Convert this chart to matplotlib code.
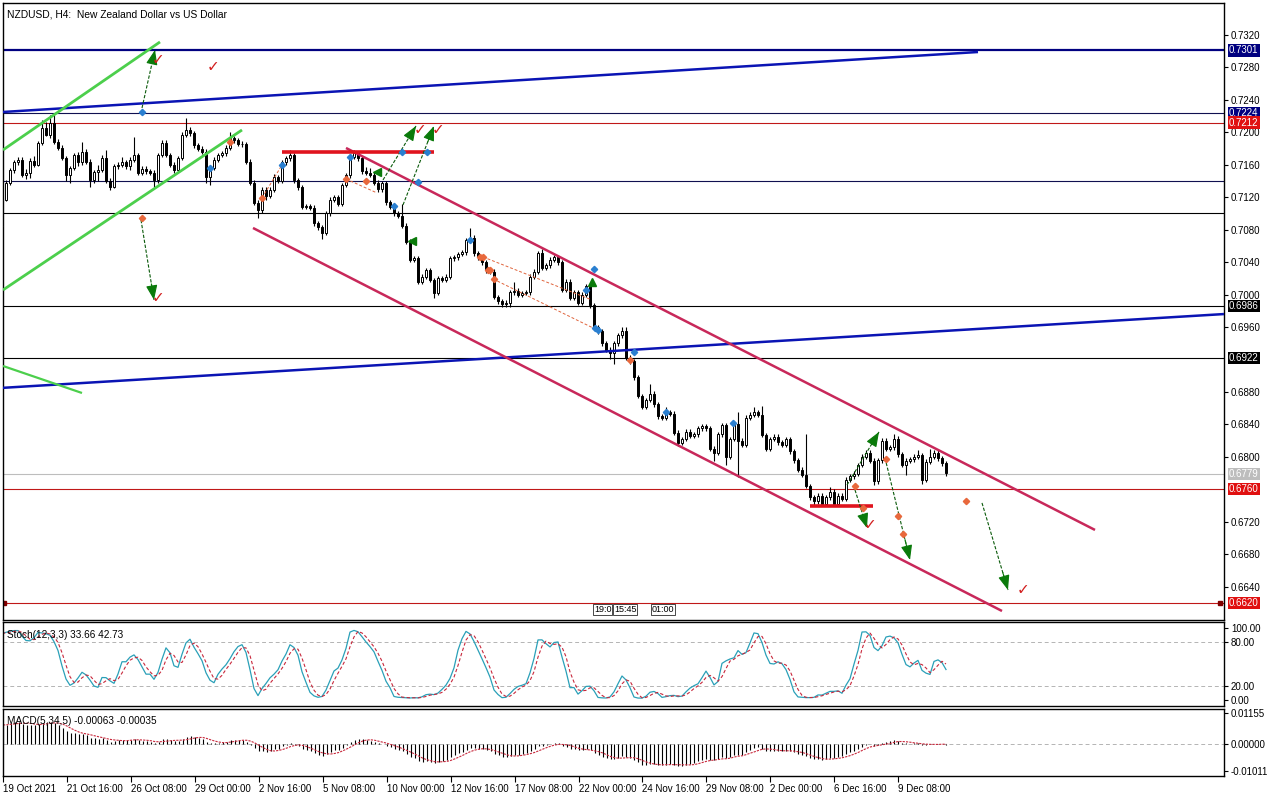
import numpy as np
import pandas as pd
import matplotlib
matplotlib.use("Agg")
import matplotlib.pyplot as plt

# ---------------- data (prices in pips, 0.0001) ----------------
open0 = 7085
closes = [
    7117, 7138, 7154, 7163, 7166, 7147, 7150, 7165, 7160, 7187,
    7205, 7197, 7211, 7188, 7181, 7168, 7147, 7156, 7172, 7163,
    7176, 7163, 7141, 7151, 7154, 7168, 7140, 7133, 7158, 7160,
    7163, 7158, 7166, 7172, 7150, 7155, 7152, 7150, 7141, 7172,
    7187, 7172, 7160, 7154, 7168, 7197, 7203, 7199, 7184, 7180,
    7176, 7145, 7156, 7166, 7172, 7174, 7181, 7193, 7190, 7186,
    7185, 7164, 7138, 7113, 7104, 7129, 7122, 7129, 7145, 7140,
    7163, 7168, 7172, 7141, 7132, 7108, 7109, 7107, 7088, 7083,
    7076, 7100, 7117, 7120, 7112, 7135, 7147, 7170, 7174, 7168,
    7152, 7150, 7148, 7138, 7130, 7137, 7114, 7108, 7100, 7097,
    7085, 7065, 7043, 7045, 7016, 7022, 7030, 7018, 7002, 7020,
    7018, 7022, 7045, 7046, 7050, 7052, 7067, 7070, 7051, 7046,
    7040, 7030, 7028, 6997, 6992, 6988, 6990, 7003, 7005, 7000,
    7002, 7003, 7022, 7028, 7051, 7033, 7036, 7043, 7046, 7040,
    7006, 7016, 6996, 7003, 6990, 7000, 7010, 6987, 6960, 6955,
    6940, 6932, 6928, 6940, 6950, 6955, 6922, 6918, 6898, 6875,
    6862, 6870, 6878, 6865, 6850, 6848, 6855, 6853, 6830, 6817,
    6822, 6831, 6826, 6828, 6835, 6838, 6835, 6810, 6805, 6828,
    6839, 6800, 6822, 6840, 6820, 6815, 6848, 6852, 6855, 6852,
    6827, 6810, 6822, 6825, 6818, 6815, 6822, 6807, 6796, 6784,
    6778, 6764, 6750, 6745, 6752, 6742, 6750, 6757, 6742, 6752,
    6748, 6772, 6776, 6779, 6790, 6800, 6805, 6795, 6770, 6796,
    6820, 6810, 6812, 6822, 6803, 6790, 6795, 6797, 6800, 6802,
    6772, 6794, 6800, 6805, 6798, 6792, 6780,
]
up_wick = [
    3, 3, 2, 3, 4, 3, 5, 3, 6, 2,
    10, 8, 10, 11, 4, 3, 3, 2, 3, 4,
    12, 3, 4, 3, 6, 4, 10, 4, 3, 3,
    7, 3, 3, 22, 3, 3, 4, 3, 3, 3,
    3, 3, 3, 4, 3, 3, 15, 3, 3, 3,
    3, 4, 3, 3, 3, 3, 3, 7, 3, 3,
    3, 3, 3, 3, 3, 3, 3, 3, 4, 3,
    3, 3, 6, 3, 3, 3, 3, 3, 3, 3,
    3, 3, 3, 3, 3, 3, 3, 3, 4, 3,
    3, 5, 6, 3, 3, 3, 3, 3, 3, 3,
    15, 3, 3, 3, 3, 3, 3, 3, 3, 3,
    3, 3, 3, 3, 3, 3, 3, 12, 3, 3,
    3, 3, 3, 3, 3, 3, 3, 3, 10, 3,
    3, 3, 3, 3, 3, 5, 3, 3, 3, 3,
    3, 3, 3, 3, 3, 3, 3, 3, 3, 3,
    3, 3, 3, 3, 3, 5, 5, 3, 3, 3,
    3, 3, 12, 3, 3, 3, 7, 3, 3, 3,
    3, 3, 3, 3, 3, 3, 3, 3, 3, 3,
    3, 3, 3, 3, 15, 3, 3, 3, 7, 3,
    11, 3, 3, 3, 3, 3, 3, 3, 3, 3,
    3, 50, 3, 3, 3, 3, 3, 6, 3, 3,
    3, 3, 3, 3, 3, 3, 4, 3, 3, 3,
    3, 3, 3, 6, 4, 3, 3, 3, 3, 6,
    3, 3, 10, 3, 3, 3, 3,
]
down_wick = [
    5, 2, 3, 4, 3, 2, 4, 6, 3, 2,
    3, 2, 4, 2, 3, 2, 7, 9, 3, 4,
    3, 2, 8, 4, 11, 3, 3, 4, 2, 3,
    3, 3, 4, 2, 3, 3, 3, 3, 8, 4,
    3, 3, 3, 4, 3, 2, 3, 3, 3, 3,
    3, 7, 10, 3, 3, 3, 3, 3, 3, 3,
    3, 3, 3, 3, 10, 3, 5, 3, 3, 3,
    3, 3, 3, 3, 3, 3, 3, 3, 3, 4,
    8, 3, 3, 3, 3, 3, 3, 3, 3, 3,
    3, 3, 3, 3, 3, 3, 3, 3, 3, 3,
    3, 3, 3, 3, 3, 3, 3, 3, 6, 3,
    3, 3, 3, 3, 3, 3, 3, 3, 3, 3,
    3, 3, 3, 3, 3, 3, 3, 5, 3, 3,
    3, 3, 3, 3, 3, 3, 3, 3, 3, 3,
    3, 3, 3, 3, 3, 3, 3, 3, 3, 3,
    3, 3, 8, 13, 3, 3, 3, 3, 3, 3,
    3, 3, 3, 3, 3, 3, 3, 3, 3, 4,
    3, 3, 3, 3, 3, 3, 3, 3, 10, 3,
    3, 10, 3, 3, 45, 3, 3, 3, 3, 3,
    3, 3, 3, 3, 3, 3, 3, 3, 3, 3,
    3, 3, 3, 4, 3, 3, 3, 3, 3, 3,
    3, 3, 3, 3, 3, 3, 3, 3, 5, 3,
    3, 3, 3, 3, 3, 3, 12, 3, 3, 3,
    5, 3, 3, 3, 3, 3, 4,
]
# MACD value at the left edge of the window
macd_start = 0.0075

date_labels = ["19 Oct 2021", "21 Oct 16:00", "26 Oct 08:00", "29 Oct 00:00",
               "2 Nov 16:00", "5 Nov 08:00", "10 Nov 00:00", "12 Nov 16:00",
               "17 Nov 08:00", "22 Nov 00:00", "24 Nov 16:00", "29 Nov 08:00",
               "2 Dec 00:00", "6 Dec 16:00", "9 Dec 08:00"]
bars_per_label = 16

# right-axis price labels (0.6920 and 0.6760 are hidden behind level boxes)
price_ticks = [0.7320, 0.7280, 0.7240, 0.7200, 0.7160, 0.7120, 0.7080, 0.7040,
               0.7000, 0.6960, 0.6880, 0.6840, 0.6800, 0.6720, 0.6680, 0.6640]

# horizontal levels: (price, colour, width, label box colour or None)
levels = [
    (0.7301, "#000080", 1.6, "#000080"),
    (0.7224, "#101050", 0.8, "#000080"),
    (0.7212, "#c01818", 0.8, "#e01010"),
    (0.7140, "#101050", 0.8, None),
    (0.7100, "#000000", 0.8, None),
    (0.6986, "#000000", 0.8, "#000000"),
    (0.6922, "#000000", 0.8, "#000000"),
    (0.6779, "#bdbdbd", 0.8, "#bdbdbd"),
    (0.6760, "#c01818", 0.8, "#e01010"),
    (0.6620, "#c01818", 0.8, "#e01010"),
]

# trend lines: ((bar, price), (bar, price)), colour, width
trend_lines = [
    ((0.0, 0.7225), (244.0, 0.7299), "#0a14b4", 1.8),
    ((0.0, 0.6885), (305.5, 0.6976), "#0a14b4", 1.8),
    ((0.25, 0.71783), (39.5, 0.73114), "#4ccf4c", 2.0),
    ((0.25, 0.70057), (60.0, 0.72029), "#4ccf4c", 2.0),
    ((0.25, 0.69120), (20.0, 0.68787), "#4ccf4c", 1.6),
    ((86.0, 0.71807), (273.25, 0.67099), "#c8285a", 1.8),
    ((62.75, 0.70821), (250.0, 0.66100), "#c8285a", 1.8),
]
thick_segments = [((70.0, 108.0), 0.71758), ((202.0, 217.75), 0.67394)]
dashed_lines = [
    ((65.0, 0.71191), (70.0, 0.71598)),
    ((86.0, 0.71425), (93.75, 0.71253)),
    ((120.25, 0.70464), (147.0, 0.69943)),
    ((122.75, 0.70193), (147.75, 0.69589)),
]
arrows = [
    ((35.0, 0.72300), (38.25, 0.73015)),
    ((34.75, 0.70920), (38.0, 0.69934)),
    ((95.25, 0.71413), (103.5, 0.72078)),
    ((100.25, 0.71105), (108.0, 0.72078)),
    ((211.25, 0.67653), (219.25, 0.68307)),
    ((213.25, 0.67592), (216.25, 0.67123)),
    ((220.75, 0.67986), (227.0, 0.66729)),
    ((245.0, 0.67432), (251.5, 0.66359)),
]
checks = [(39.0, 0.72892), (52.75, 0.72806), (104.5, 0.72029), (109.0, 0.72029),
          (39.0, 0.69958), (217.0, 0.67160), (255.25, 0.66359)]
small_triangles = [(93.75, 0.71511, "<"), (102.5, 0.70661, "<"), (147.5, 0.70155, "^")]
blue_marks_x = [35, 52, 70, 87, 100, 106.25, 104, 98, 117, 148, 146, 148.25, 149, 158, 166, 182.75]
blue_marks_y = [0.72251, 0.71561, 0.71598, 0.71696, 0.71758, 0.71758, 0.71388, 0.71092,
                0.70673, 0.70316, 0.70057, 0.69588, 0.69564, 0.69293, 0.68553, 0.68418]
orange_marks_x = [35, 57, 65, 86, 91, 119.5, 121.5, 120.25, 122, 123, 157,
                  213.25, 221, 215.25, 224, 225.25, 241]
orange_marks_y = [0.70944, 0.71881, 0.71191, 0.71425, 0.71400, 0.70464, 0.70303,
                  0.70464, 0.70303, 0.70192, 0.69194, 0.67641, 0.67974, 0.67370,
                  0.67271, 0.67049, 0.67456]

# ---------------- derived series ----------------
c = np.array(closes, float) / 1e4
o = np.r_[open0 / 1e4, c[:-1]]
h = np.maximum(o, c) + np.array(up_wick) / 1e4
l = np.minimum(o, c) - np.array(down_wick) / 1e4
n = len(c)
x = np.arange(n)

cs, hs, ls = pd.Series(c), pd.Series(h), pd.Series(l)
hh = hs.rolling(12, min_periods=1).max()
ll = ls.rolling(12, min_periods=1).min()
k_line = 100 * (cs - ll).rolling(3, min_periods=1).sum() / (hh - ll).rolling(3, min_periods=1).sum()
d_line = k_line.rolling(3, min_periods=1).mean()

a5, a34 = 2 / 6, 2 / 35
e5, e34 = c[0], c[0] - macd_start
macd_vals = []
for ci in c:
    e5 += a5 * (ci - e5)
    e34 += a34 * (ci - e34)
    macd_vals.append(e5 - e34)
macd = pd.Series(macd_vals)
signal = macd.rolling(5, min_periods=1).mean()

# ---------------- figure ----------------
W, H = 1272, 797
fig = plt.figure(figsize=(W / 100, H / 100), dpi=100)
FONT = "Liberation Sans"
plt.rcParams["font.family"] = [FONT, "DejaVu Sans"]


def rect(x0, y0, x1, y1):
    return [x0 / W, 1 - y1 / H, (x1 - x0) / W, (y1 - y0) / H]


ax = fig.add_axes(rect(3, 3, 1224, 620))
ax_s = fig.add_axes(rect(3, 622, 1224, 706))
ax_m = fig.add_axes(rect(3, 709, 1224, 776))

XL = (0.25, 305.5)
for a in (ax, ax_s, ax_m):
    a.set_xlim(*XL)
    for s in a.spines.values():
        s.set_color("black")
        s.set_linewidth(1.0)
    a.yaxis.tick_right()
    a.tick_params(axis="y", direction="out", length=3, width=0.8, pad=2,
                  labelsize=7, colors="black")
    a.set_facecolor("white")

# main price panel
ax.set_ylim(0.65989, 0.73594)
ax.set_yticks(price_ticks)
ax.set_yticklabels([f"{p:.4f}" for p in price_ticks])
ax.set_xticks([])

for p, col, lw, box in levels:
    ax.axhline(p, color=col, lw=lw, zorder=1)
ax.plot([0.6, 304.5], [0.6620, 0.6620], ls="none", marker="s", ms=3, color="#800000", zorder=2)

# candles
ax.vlines(x, l, h, color="black", lw=0.8, zorder=3)
body_lo = np.minimum(o, c)
body_h = np.maximum(np.abs(c - o), 0.00003)
ax.bar(x, body_h, bottom=body_lo, width=0.72,
       color=["white" if cc >= oo else "black" for oo, cc in zip(o, c)],
       edgecolor="black", linewidth=0.7, zorder=4)

for (x0, y0), (x1, y1), col, lw in trend_lines:
    ax.plot([x0, x1], [y0, y1], color=col, lw=lw, zorder=5, solid_capstyle="butt")
for (x0, x1), p in thick_segments:
    ax.plot([x0, x1], [p, p], color="#e0141e", lw=2.6, zorder=5, solid_capstyle="butt")
for (x0, y0), (x1, y1) in dashed_lines:
    ax.plot([x0, x1], [y0, y1], color="#e0643c", lw=0.7, ls=(0, (3, 2)), zorder=5)
for (x0, y0), (x1, y1) in arrows:
    ax.plot([x0, x1], [y0, y1], color="#0a5a0a", lw=0.8, ls=(0, (3, 1.5)), zorder=6)
    fx0 = x0 + 0.8 * (x1 - x0)
    fy0 = y0 + 0.8 * (y1 - y0)
    ax.annotate("", xy=(x1, y1), xytext=(fx0, fy0),
                arrowprops=dict(arrowstyle="-|>,head_length=0.9,head_width=0.35",
                                color="#0a7a0a", lw=0.8, shrinkA=0, shrinkB=0),
                zorder=6)
for xx, yy, m in small_triangles:
    ax.plot(xx, yy, marker=m, ms=6, color="#0a7a0a", zorder=6)
for xx, yy in checks:
    ax.text(xx, yy, "\u2713", color="#d21e1e", fontsize=11, fontweight="bold",
            ha="center", va="center", family="DejaVu Sans", zorder=7)
ax.plot(blue_marks_x, blue_marks_y, ls="none", marker="D", ms=3.2, color="#2a7fd0", zorder=7)
ax.plot(orange_marks_x, orange_marks_y, ls="none", marker="D", ms=3.2, color="#e8683c", zorder=7)

# price label boxes on right axis
for p, col, lw, box in levels:
    if box is None:
        continue
    ax.annotate(f"{p:.4f}", xy=(1, p), xycoords=("axes fraction", "data"),
                xytext=(3.5, 0), textcoords="offset points", va="center", ha="left",
                fontsize=7, color="white",
                bbox=dict(boxstyle="square,pad=0.12", fc=box, ec="none"), zorder=10,
                annotation_clip=False)

ax.text(0.003, 0.99, "NZDUSD, H4:  New Zealand Dollar vs US Dollar", transform=ax.transAxes,
        ha="left", va="top", fontsize=7.4, color="black")

# time-separator tags near bottom
for tx, tt in [(148.0, "19:0"), (153.0, "15:45"), (162.5, "01:00")]:
    ax.text(tx, 0.6612, tt, fontsize=6.5, ha="left", va="center",
            bbox=dict(boxstyle="square,pad=0.1", fc="white", ec="black", lw=0.5), zorder=8)

# stochastic panel
ax_s.set_ylim(-8.33, 108.33)
ax_s.set_yticks([100, 80, 20, 0])
ax_s.set_yticklabels(["100.00", "80.00", "20.00", "0.00"])
ax_s.set_xticks([])
for lv in (80, 20):
    ax_s.axhline(lv, color="#b4b4b4", lw=0.7, ls=(0, (4, 3)))
ax_s.plot(x, k_line, color="#2aa0b8", lw=0.9)
ax_s.plot(x, d_line, color="#c8283c", lw=0.8, ls=(0, (3, 2)))
ax_s.text(0.003, 0.90, "Stoch(12,3,3) 33.66 42.73", transform=ax_s.transAxes,
          ha="left", va="top", fontsize=7.2)

# MACD panel
ax_m.set_ylim(-0.01198, 0.01304)
ax_m.set_yticks([0.01155, 0.0, -0.01011])
ax_m.set_yticklabels(["0.01155", "0.00000", "-0.01011"])
ax_m.axhline(0, color="#b4b4b4", lw=0.7, ls=(0, (4, 3)))
ax_m.vlines(x, 0, macd, color="black", lw=0.8)
ax_m.plot(x, signal, color="#c8283c", lw=0.8, ls=(0, (2, 1)))
ax_m.text(0.003, 0.90, "MACD(5,34,5) -0.00063 -0.00035", transform=ax_m.transAxes,
          ha="left", va="top", fontsize=7.2)
tick_pos = [i * bars_per_label for i in range(len(date_labels))]
ax_m.set_xticks(tick_pos)
ax_m.set_xticklabels(date_labels, ha="left", fontsize=7)
ax_m.tick_params(axis="x", direction="out", length=4, width=0.8, pad=2)

fig.savefig("out.png", dpi=100, facecolor="white")
